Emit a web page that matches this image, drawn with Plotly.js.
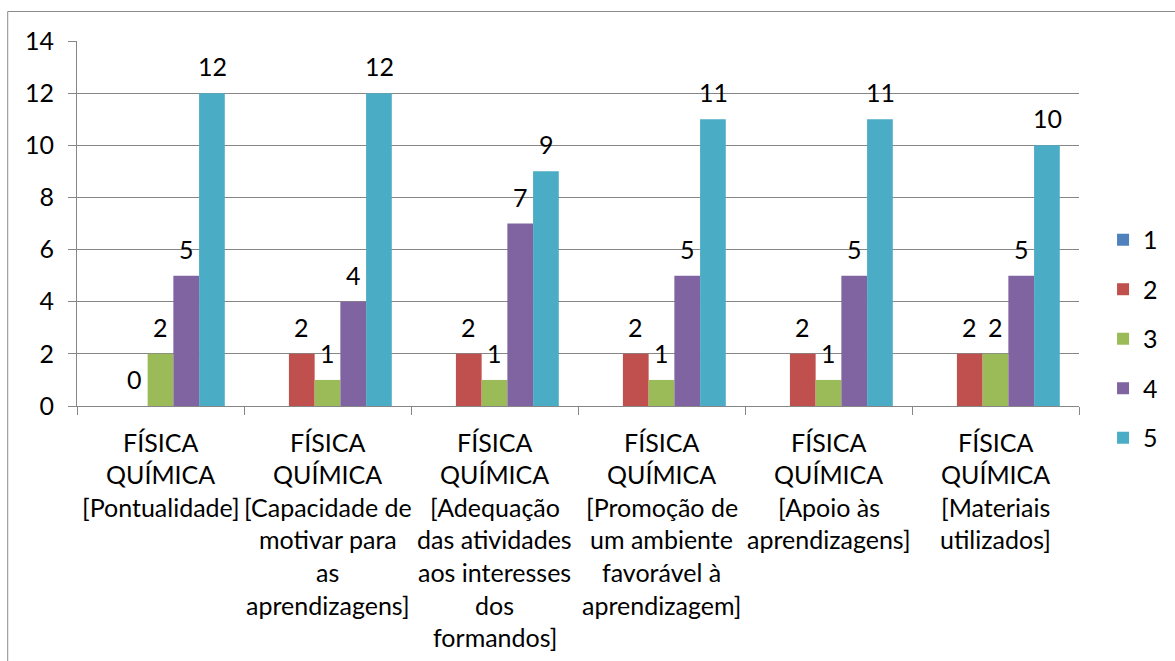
<!DOCTYPE html>
<html><head><meta charset="utf-8">
<script src="https://cdn.plot.ly/plotly-3.0.1.min.js"></script>
<style>html,body{margin:0;padding:0;background:#fff}#chart{width:1175px;height:661px}</style>
</head><body><div id="chart"></div>
<script>
const categoryLabelLines = [
  ["FÍSICA", "QUÍMICA", "[Pontualidade]"],
  ["FÍSICA", "QUÍMICA", "[Capacidade de", "motivar para", "as", "aprendizagens]"],
  ["FÍSICA", "QUÍMICA", "[Adequação", "das atividades", "aos interesses", "dos", "formandos]"],
  ["FÍSICA", "QUÍMICA", "[Promoção de", "um ambiente", "favorável à", "aprendizagem]"],
  ["FÍSICA", "QUÍMICA", "[Apoio às", "aprendizagens]"],
  ["FÍSICA", "QUÍMICA", "[Materiais", "utilizados]"]
];
const categories = categoryLabelLines.map(l => l.join(" "));
const seriesNames = ["1", "2", "3", "4", "5"];
const series1 = [null, null, null, null, null, null];
const series2 = [0, 2, 2, 2, 2, 2];
const series3 = [2, 1, 1, 1, 1, 2];
const series4 = [5, 4, 7, 5, 5, 5];
const series5 = [12, 12, 9, 11, 11, 10];
const yTicks = [0, 2, 4, 6, 8, 10, 12, 14];

const allSeries = [series1, series2, series3, series4, series5];
const colors = ["#4F81BD", "#C0504D", "#9BBB59", "#8064A2", "#4BACC6"];
const FONT = "Lato, 'Open Sans', sans-serif";
const FS = 25;
const ML = 77, MR = 93, MT = 41, MB = 255, W = 1175, H = 661;
const BARGAP = 0.23;
const plotW = W - ML - MR;
const catW = plotW / categories.length;
const barW = catW * (1 - BARGAP) / allSeries.length;

const traces = allSeries.map((vals, i) => ({
  type: "bar",
  name: seriesNames[i],
  x: categories,
  y: vals,
  marker: { color: colors[i] },
  legendgroup: "g" + i,
  hoverinfo: "name+y"
}));

const annotations = [];
allSeries.forEach((vals, i) => {
  vals.forEach((v, j) => {
    if (v === null) return;
    annotations.push({
      xref: "x", yref: "y", x: categories[j], y: v,
      text: String(v), showarrow: false,
      xanchor: "center", yanchor: "middle",
      xshift: (i - (allSeries.length - 1) / 2) * barW,
      yshift: 27,
      font: { family: FONT, size: FS, color: "#000" }
    });
  });
});
const LINE_H = 32.6, FIRST = 35.5;
categoryLabelLines.forEach((lines, j) => {
  lines.forEach((t, k) => {
    annotations.push({
      xref: "x", yref: "y", x: categories[j], y: 0,
      text: t, showarrow: false, xanchor: "center", yanchor: "middle",
      yshift: -(FIRST + k * LINE_H),
      font: { family: FONT, size: FS, color: "#000" }
    });
  });
});

const layout = {
  width: W, height: H,
  margin: { l: ML, r: MR, t: MT, b: MB, pad: 0 },
  paper_bgcolor: "#fff", plot_bgcolor: "#fff",
  barmode: "group", bargap: BARGAP, bargroupgap: 0,
  font: { family: FONT, size: FS, color: "#000" },
  xaxis: {
    type: "category", range: [-0.5, categories.length - 0.5],
    showline: true, linecolor: "#868686", linewidth: 1,
    ticks: "outside", tickson: "boundaries", ticklen: 8, tickcolor: "#868686",
    showticklabels: false, showgrid: false, zeroline: false, fixedrange: true
  },
  yaxis: {
    range: [0, 14], tickvals: yTicks, ticktext: yTicks.map(String),
    showgrid: true, gridcolor: "#868686", gridwidth: 1,
    showline: true, linecolor: "#868686", linewidth: 1,
    ticks: "outside", ticklen: 8, tickcolor: "#868686",
    ticklabelstandoff: 9,
    tickfont: { family: FONT, size: FS, color: "#000" },
    zeroline: false, fixedrange: true
  },
  showlegend: true,
  legend: {
    x: 1.024, xanchor: "left", y: 0.1836, yanchor: "middle",
    traceorder: "grouped", tracegroupgap: 14,
    font: { family: FONT, size: FS, color: "#000" },
    bgcolor: "rgba(0,0,0,0)", borderwidth: 0
  },
  annotations: annotations,
  shapes: [{
    type: "rect", xref: "paper", yref: "paper", layer: "below",
    x0: (7.5 - ML) / plotW, x1: 1.3,
    y0: -1, y1: (H - MB - 11.5) / (H - MT - MB),
    line: { color: "#8c8c8c", width: 1 }, fillcolor: "rgba(0,0,0,0)"
  }]
};

Plotly.newPlot("chart", traces, layout, { displayModeBar: false, staticPlot: true });
</script>
</body></html>
